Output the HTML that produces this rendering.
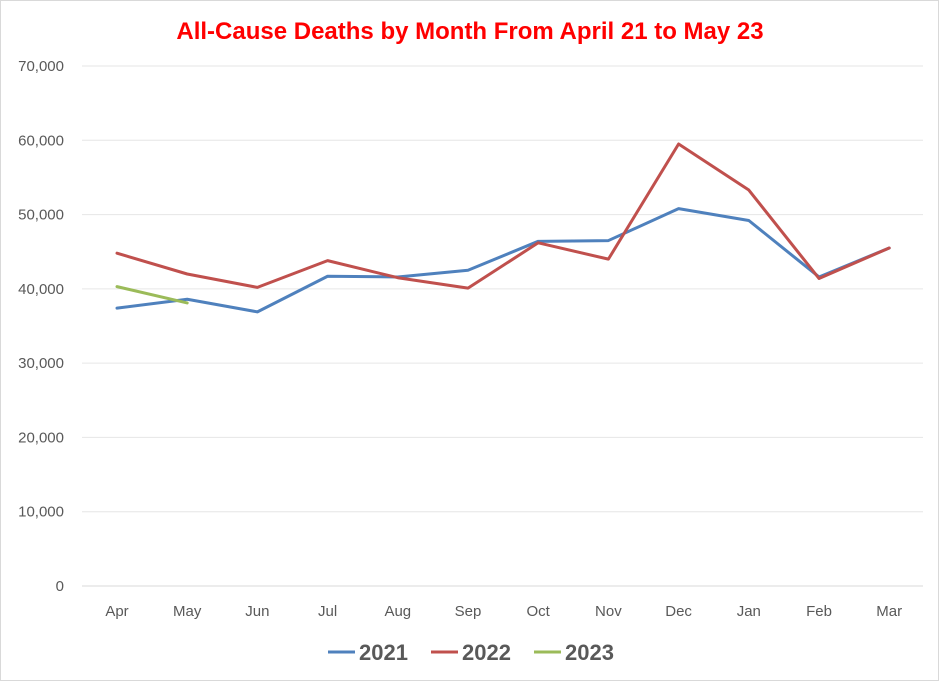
<!DOCTYPE html>
<html><head><meta charset="utf-8"><style>
body{margin:0;background:#fff;font-family:"Liberation Sans",sans-serif;}
#wrap{position:relative;width:939px;height:681px;overflow:hidden;border:1px solid #d9d9d9;box-sizing:border-box;}
</style></head><body>
<div id="wrap">
<svg id="chart" width="939" height="681"></svg>
</div>
<script>
const months=["Apr","May","Jun","Jul","Aug","Sep","Oct","Nov","Dec","Jan","Feb","Mar"];
const yTicks=[0,10000,20000,30000,40000,50000,60000,70000];
const s2021=[37400,38600,36900,41700,41600,42500,46400,46500,50800,49200,41600,45500];
const s2022=[44800,42000,40200,43800,41500,40100,46200,44000,59500,53300,41400,45500];
const s2023=[40300,38100];
const seriesNames=["2021","2022","2023"];
const colors=["#4f81bd","#c0504d","#9bbb59"];
const NS="http://www.w3.org/2000/svg";
const svg=document.getElementById('chart');
const x0=116,dx=70.2,yb=585,yt=65,ymax=70000;
const X=i=>x0+i*dx, Y=v=>yb-(v/ymax)*(yb-yt);
function mk(t,a,txt){const e=document.createElementNS(NS,t);for(const k in a)e.setAttribute(k,a[k]);if(txt!=null)e.textContent=txt;svg.appendChild(e);return e;}
let t=mk('text',{x:469,y:38,'text-anchor':'middle','font-size':24,'font-weight':'bold',fill:'#ff0000'},'All-Cause Deaths by Month From April 21 to May 23');


yTicks.forEach(v=>{
 const l=mk('line',{x1:81,x2:922,y1:Y(v),y2:Y(v),stroke:v===0?'#d9d9d9':'#e6e6e6','stroke-width':1});
 
 
 const tx=mk('text',{x:63,y:Y(v)+5,'text-anchor':'end','font-size':15,fill:'#595959'},v.toLocaleString('en-US'));
 
 
});
months.forEach((m,i)=>{
 const tx=mk('text',{x:X(i),y:615,'text-anchor':'middle','font-size':15,fill:'#595959'},m);
 
 
});
[s2021,s2022,s2023].forEach((s,k)=>{
 const p=mk('polyline',{points:s.map((v,i)=>X(i)+','+Y(v)).join(' '),fill:'none',stroke:colors[k],'stroke-width':3,'stroke-linejoin':'round','stroke-linecap':'round'});
 
 
});
const lx=[327,430,533];
seriesNames.forEach((n,k)=>{
 const l=mk('line',{x1:lx[k],x2:lx[k]+27,y1:651,y2:651,stroke:colors[k],'stroke-width':3});
 
 
 const tx=mk('text',{x:lx[k]+31,y:659,'font-size':22,'font-weight':'bold',fill:'#595959'},n);
 
 
});
</script>
</body></html>
